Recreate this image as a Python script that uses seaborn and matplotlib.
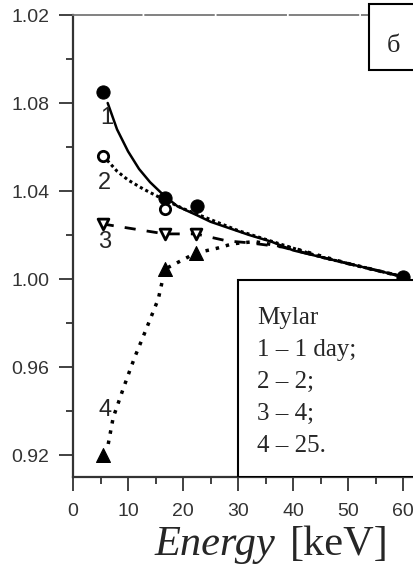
import numpy as np
import pandas as pd
import matplotlib
matplotlib.use("Agg")
import matplotlib.pyplot as plt
import seaborn as sns
from matplotlib.patches import Rectangle
from matplotlib.ticker import MultipleLocator

# データ
energy_pts = [5.5, 16.7, 22.5, 60.0]
s1_pts = [1.085, 1.037, 1.033, 1.001]           # 1 day, filled circles
s2_x = [5.5, 16.7]
s2_pts = [1.056, 1.032]                          # 2, open circles
s3_x = [5.4, 16.7, 22.3]
s3_pts = [1.025, 1.0205, 1.0205]                 # 4, open triangles
s4_x = [5.5, 16.7, 22.3]
s4_pts = [0.920, 1.0045, 1.0118]                 # 25, filled triangles

# 曲線（図からの読み取り）
c1_x = [6.3, 8, 10, 12, 14, 16.5, 19, 22.5, 25, 28.5, 32, 36, 40, 45, 50, 55, 60]
c1_y = [1.080, 1.068, 1.058, 1.050, 1.044, 1.038, 1.033, 1.029, 1.026, 1.023, 1.020, 1.017, 1.013, 1.010, 1.007, 1.004, 1.001]
c2_x = [6.2, 8, 10, 12.7, 15.8, 20, 25, 30, 35, 40, 45, 50, 55, 60]
c2_y = [1.054, 1.049, 1.045, 1.041, 1.037, 1.032, 1.027, 1.022, 1.018, 1.014, 1.010, 1.007, 1.004, 1.001]
c3_x = [5.4, 16.7, 22.3, 28, 32.2, 38, 45, 50, 55, 60]
c3_y = [1.025, 1.0205, 1.0205, 1.0173, 1.0164, 1.0145, 1.010, 1.007, 1.004, 1.001]
c4_x = [6.4, 7.3, 9.1, 10.4, 11.3, 13.1, 15.5, 16.7, 22.3, 26.2, 29, 33, 40, 50, 60]
c4_y = [0.925, 0.937, 0.950, 0.959, 0.965, 0.976, 0.991, 1.0045, 1.0118, 1.014, 1.016, 1.017, 1.014, 1.007, 1.001]

y_ticks = [0.92, 0.96, 1.00, 1.04, 1.08, 1.12]
y_labels = ["0.92", "0.96", "1.00", "1.04", "1.08", "1.02"]
x_ticks = [0, 10, 20, 30, 40, 50, 60]
curve_labels = ["1", "2", "3", "4"]
curve_label_x = [6.2, 5.8, 5.8, 5.8]
curve_label_y = [1.0732, 1.0436, 1.0168, 0.9405]
legend_lines = ["Mylar", "1 \u2013 1 day;", "2 \u2013 2;", "3 \u2013 4;", "4 \u2013 25."]

sns.set_theme(style="ticks")
plt.rcParams['font.family'] = ['Liberation Sans Narrow', 'Liberation Sans', 'DejaVu Sans']

fig = plt.figure(figsize=(4.13, 5.68), dpi=100)
ax = fig.add_axes([73 / 413, (568 - 477) / 568, 1 - 73 / 413 + 0.01, 462 / 568])

sns.lineplot(x=c1_x, y=c1_y, ax=ax, color="black", lw=1.8, sort=False)
sns.lineplot(x=c2_x, y=c2_y, ax=ax, color="black", lw=2.2, sort=False, linestyle=(0, (1, 1)))
sns.lineplot(x=c3_x, y=c3_y, ax=ax, color="black", lw=2.0, sort=False, linestyle=(0, (4, 4)))
sns.lineplot(x=c4_x, y=c4_y, ax=ax, color="black", lw=2.5, sort=False, linestyle=(0, (1, 2)))

sns.scatterplot(x=energy_pts, y=s1_pts, ax=ax, marker="o", s=90, color="black", edgecolor="black", zorder=5)
sns.scatterplot(x=s2_x, y=s2_pts, ax=ax, marker="o", s=55, facecolor="white", edgecolor="black", linewidth=2, zorder=5)
sns.scatterplot(x=s3_x, y=s3_pts, ax=ax, marker="v", s=60, facecolor="white", edgecolor="black", linewidth=2, zorder=5)
sns.scatterplot(x=s4_x, y=s4_pts, ax=ax, marker="^", s=100, color="black", edgecolor="black", zorder=5)

# 曲線番号
for lab, lx, ly in zip(curve_labels, curve_label_x, curve_label_y):
    ax.text(lx, ly, lab, fontsize=17, ha="center", va="center", family=['Liberation Sans', 'DejaVu Sans'])

ax.set_xlim(0, 62.5)
ax.set_ylim(0.91, 1.12)
ax.set_xticks(x_ticks)
ax.set_yticks(y_ticks)
ax.set_yticklabels(y_labels)
ax.xaxis.set_minor_locator(MultipleLocator(5))
ax.yaxis.set_minor_locator(MultipleLocator(0.02))
ax.tick_params(axis="both", which="major", direction="out", length=10, width=1.3, colors="#333333", labelsize=14)
ax.tick_params(axis="both", which="minor", direction="out", length=5, width=1.3, colors="#333333")
ax.tick_params(axis="y", pad=7)
ax.tick_params(axis="x", pad=9)

ax.spines["right"].set_visible(False)
for sp in ["left", "bottom"]:
    ax.spines[sp].set_color("#333333")
    ax.spines[sp].set_linewidth(1.6)
ax.spines["top"].set_color("#777777")
ax.spines["top"].set_linewidth(1.3)
ax.spines["top"].set_linestyle((0, (38, 2)))

# 凡例の枠
ax.add_patch(Rectangle((30, 0.91), 40, 0.0895, facecolor="white", edgecolor="black", lw=1.5, zorder=6))
ax.add_patch(Rectangle((53.8, 1.095), 20, 0.03, facecolor="white", edgecolor="black", lw=1.5, zorder=6, clip_on=False))
fig.text(393 / 413, 1 - 52 / 568, "\u0431", fontsize=19, ha="center", va="baseline", family="Liberation Serif")

for i, line in enumerate(legend_lines):
    fig.text(257 / 413, 1 - (324 + 32 * i) / 568, line, fontsize=18, ha="left", va="baseline",
             family="Liberation Serif", zorder=7)

fig.text(155 / 413, 1 - 555 / 568, "Energy", fontsize=30.5, style="italic", family="Liberation Serif", va="baseline")
fig.text(290 / 413, 1 - 555 / 568, "[keV]", fontsize=30.5, family="Liberation Serif", va="baseline")

fig.savefig("out.png", dpi=100)
